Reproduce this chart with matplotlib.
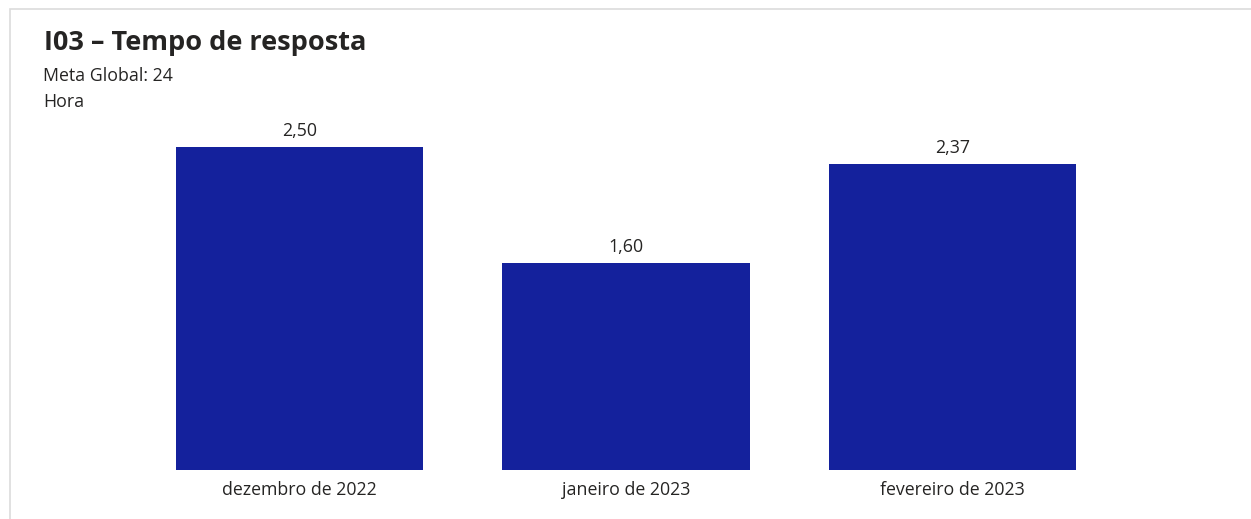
import matplotlib.pyplot as plt
from matplotlib.patches import Rectangle

meses = ["dezembro de 2022", "janeiro de 2023", "fevereiro de 2023"]
tempo = [2.50, 1.60, 2.37]

plt.rcParams['font.family'] = ['Open Sans', 'DejaVu Sans']

W, H = 1251, 519
fig = plt.figure(figsize=(W / 100, H / 100), dpi=100, facecolor='white')

# card border (top + left)
fig.add_artist(Rectangle((10 / W, -0.1), 1.2, (H - 9) / H + 0.1, transform=fig.transFigure,
                         fill=False, edgecolor='#dcdcdc', linewidth=1.2))

ax = fig.add_axes([136.5 / W, 49 / H, 979 / W, 323 / H])
x = range(len(meses))
ax.bar(x, tempo, width=0.757, color='#14219c')
for i, v in zip(x, tempo):
    ax.annotate("{:.2f}".format(v).replace('.', ','), (i, v), xytext=(0, 5),
                textcoords='offset points', ha='center', va='bottom',
                fontsize=12.8, color='#252423', annotation_clip=False)

ax.set_xlim(-0.5, 2.5)
ax.set_ylim(0, 2.5)
ax.set_xticks(list(x))
ax.set_xticklabels(meses, fontsize=12.8, color='#252423')
ax.tick_params(axis='x', length=0, pad=8)
ax.set_yticks([])
for s in ax.spines.values():
    s.set_visible(False)

fig.text(44 / W, 1 - 43 / H, "I03 – Tempo de resposta", fontsize=19.5, fontweight='bold',
         color='#252423', va='center', ha='left')
fig.text(43 / W, 1 - 76 / H, "Meta Global: 24", fontsize=12.8, color='#252423',
         va='center', ha='left')
fig.text(43 / W, 1 - 102 / H, "Hora", fontsize=12.8, color='#252423',
         va='center', ha='left')

fig.savefig("out.png", dpi=100)
